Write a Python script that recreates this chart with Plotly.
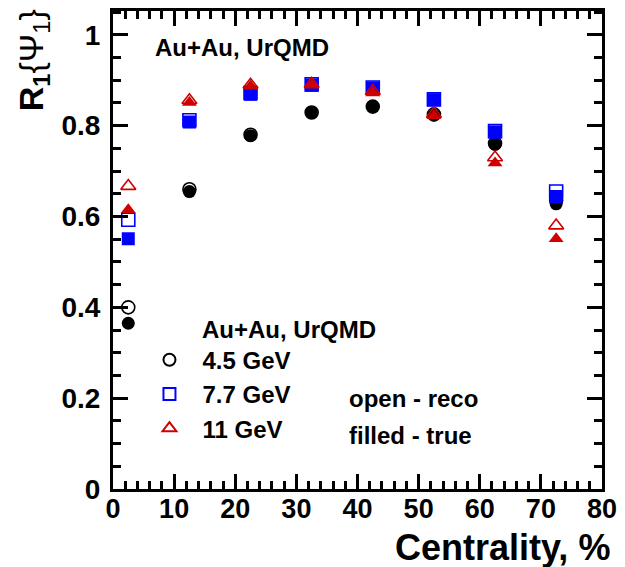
import plotly.graph_objects as go

centrality = [2.5, 12.5, 22.5, 32.5, 42.5, 52.5, 62.5, 72.5]

r_45_reco = [0.400, 0.660, 0.780, 0.829, 0.842, 0.825, 0.761, 0.636]
r_45_true = [0.365, 0.655, 0.778, 0.829, 0.842, 0.823, 0.759, 0.628]
r_77_reco = [0.593, 0.812, 0.872, 0.891, 0.884, 0.858, 0.788, 0.655]
r_77_true = [0.551, 0.808, 0.869, 0.889, 0.883, 0.857, 0.786, 0.644]
r_11_reco = [0.667, 0.856, 0.890, 0.892, 0.876, 0.826, 0.730, 0.580]
r_11_true = [0.615, 0.851, 0.887, 0.889, 0.872, 0.822, 0.718, 0.551]

energies = ["4.5 GeV", "7.7 GeV", "11 GeV"]
colors = ["#000000", "#0000ff", "#d00000"]
symbols = ["circle", "square", "triangle-up"]
reco = [r_45_reco, r_77_reco, r_11_reco]
true = [r_45_true, r_77_true, r_11_true]

FONT = "Liberation Sans"

fig = go.Figure()
for name, col, sym, yr, yt in zip(energies, colors, symbols, reco, true):
    fig.add_trace(go.Scatter(
        x=centrality, y=yr, mode="markers", name=name,
        marker=dict(symbol=sym + "-open", size=13, color=col,
                    line=dict(width=1.6, color=col)),
        showlegend=True))
    fig.add_trace(go.Scatter(
        x=centrality, y=yt, mode="markers", name=name + " true",
        marker=dict(symbol=sym, size=13, color=col,
                    line=dict(width=0, color=col)),
        showlegend=False))

axis_common = dict(
    showline=True, linewidth=3, linecolor="black", mirror="ticks",
    ticks="inside", tickwidth=3, tickcolor="black", ticklen=15,
    showgrid=False, zeroline=False, ticklabeloverflow="allow",
)

fig.update_xaxes(range=[0, 80], dtick=10, tick0=0,
                 tickfont=dict(family=FONT, size=27, color="black", weight="bold"),
                 minor=dict(ticks="inside", ticklen=8, dtick=2, tickwidth=3,
                            tickcolor="black", showgrid=False),
                 ticklabelstandoff=-6, **axis_common)
fig.update_yaxes(range=[0, 1.0525],
                 tickvals=[0, 0.2, 0.4, 0.6, 0.8, 1.0],
                 ticktext=["0", "0.2", "0.4", "0.6", "0.8", "1"],
                 tickfont=dict(family=FONT, size=28, color="black", weight="bold"),
                 minor=dict(ticks="inside", ticklen=8, dtick=0.05, tickwidth=3,
                            tickcolor="black", showgrid=False),
                 ticklabelstandoff=4, **axis_common)

txt = dict(family=FONT, size=24, color="black", weight="bold")

fig.update_layout(
    width=625, height=567,
    margin=dict(l=113, r=15, t=8, b=78),
    paper_bgcolor="white", plot_bgcolor="white",
    font=dict(family=FONT, color="black"),
    showlegend=True,
    legend=dict(
        x=0.048, y=0.3165, xanchor="left", yanchor="top",
        bgcolor="rgba(0,0,0,0)",
        font=dict(family=FONT, size=24, color="black", weight="bold"),
        itemsizing="constant", tracegroupgap=0, itemwidth=56,
    ),
)

W, H = 625, 567
L, R, T, B = 113, 15, 8, 78
pw, ph = W - L - R, H - T - B

def px(xp):
    return (xp - L) / pw

def py(yp):
    return (H - B - yp) / ph

fig.add_annotation(text="Au+Au, UrQMD", x=px(154), y=py(45), xref="paper", yref="paper",
                   xanchor="left", yanchor="middle", showarrow=False, font=txt)
fig.add_annotation(text="Au+Au, UrQMD", x=px(201), y=py(328), xref="paper", yref="paper",
                   xanchor="left", yanchor="middle", showarrow=False, font=txt)
fig.add_annotation(text="open - reco", x=px(351), y=py(398), xref="paper", yref="paper",
                   xanchor="left", yanchor="middle", showarrow=False, font=txt)
fig.add_annotation(text="filled - true", x=px(351), y=py(435), xref="paper", yref="paper",
                   xanchor="left", yanchor="middle", showarrow=False, font=txt)
fig.add_annotation(text="Centrality, %", x=px(620), y=py(548), xref="paper", yref="paper",
                   xanchor="right", yanchor="middle", showarrow=False,
                   font=dict(family=FONT, size=36, color="black", weight="bold"))
fig.add_annotation(text="<b>R<sub>1</sub></b>{Ψ<sub>1</sub>}", x=px(32), y=py(4),
                   xref="paper", yref="paper", textangle=-90,
                   xanchor="center", yanchor="top", showarrow=False,
                   font=dict(family=FONT, size=34, color="black"))

fig.write_html("out.html")
